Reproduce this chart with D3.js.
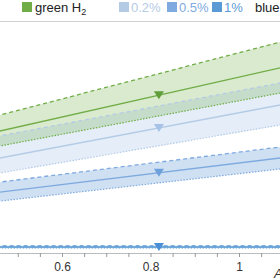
<!DOCTYPE html>
<html><head><meta charset="utf-8">
<script src="https://cdn.jsdelivr.net/npm/d3@7"></script>
<style>html,body{margin:0;padding:0;background:#fff;overflow:hidden}svg{display:block}</style>
</head><body>
<svg id="c" width="280" height="280"></svg>
<script>
// ---- data ----
const xEnds = [0.45, 1.1];
const series = ["green H₂", "0.2%", "0.5%", "1%"];
const upperVals = [[6.54, 10.29], [5.51, 8.23], [3.22, 5.02], [0.06, 0.06]];
const centerVals = [[5.75, 8.99], [4.41, 7.13], [2.72, 4.47], [0.0, 0.0]];
const lowerVals = [[5.01, 7.73], [3.66, 6.13], [2.27, 3.92], [-0.05, -0.05]];
const markerX = 0.819;
const tickVals = [0.5,0.55,0.6,0.65,0.7,0.75,0.8,0.85,0.9,0.95,1.0,1.05];
const labelVals = [0.6, 0.8, 1.0];
const legendItems = ["green H₂", "0.2%", "0.5%", "1%", "blue"];

// ---- styles ----
const lineCol = ["#70ad47", "#b4cbe6", "#7eaadf", "#5b9bd5"];
const fillCol = ["rgba(112,173,71,0.26)", "rgba(170,199,232,0.32)", "rgba(126,170,223,0.36)", "rgba(91,155,213,0.35)"];
const markCol = ["#5f9e3a", "#a6c2e6", "#6ea1dc", "#4a8fd6"];

const svg = d3.select("#c");
const x = d3.scaleLinear().domain([0.6, 1.0]).range([62, 239]);
const y = d3.scaleLinear().domain([0, 10]).range([247, 47]);

const plot = svg.append("g");
plot.append("clipPath").attr("id","clip").append("rect").attr("x",0).attr("y",22).attr("width",280).attr("height",232);
const g = plot.append("g").attr("clip-path","url(#clip)");

const line = d3.line().x(d=>x(d[0])).y(d=>y(d[1]));
const area = d3.area().x(d=>x(d[0])).y0(d=>y(d[1])).y1(d=>y(d[2]));

const order = [3,2,1,0];
order.forEach(i=>{
  const pts = xEnds.map((xv,k)=>[xv, lowerVals[i][k], upperVals[i][k]]);
  g.append("path").attr("d", area(pts)).attr("fill", fillCol[i]);
});
order.forEach(i=>{
  const up = xEnds.map((xv,k)=>[xv, upperVals[i][k]]);
  const ce = xEnds.map((xv,k)=>[xv, centerVals[i][k]]);
  const lo = xEnds.map((xv,k)=>[xv, lowerVals[i][k]]);
  g.append("path").attr("d", line(up)).attr("fill","none").attr("stroke", lineCol[i]).attr("stroke-width",1.3).attr("stroke-dasharray","4,3");
  g.append("path").attr("d", line(lo)).attr("fill","none").attr("stroke", lineCol[i]).attr("stroke-width",1.2).attr("stroke-dasharray","1.5,1.5");
  g.append("path").attr("d", line(ce)).attr("fill","none").attr("stroke", lineCol[i]).attr("stroke-width",1.3);
  const t = (markerX - xEnds[0])/(xEnds[1]-xEnds[0]);
  const my = centerVals[i][0] + t*(centerVals[i][1]-centerVals[i][0]);
  const cx = x(markerX), cy = y(my);
  g.append("path").attr("d", `M${cx-5},${cy-4}L${cx+5},${cy-4}L${cx},${cy+4}Z`).attr("fill", markCol[i]);
});

// axis
const ax = svg.append("g").attr("transform","translate(0,253)")
  .call(d3.axisBottom(x).tickValues(tickVals).tickSize(4).tickFormat(d=> labelVals.some(l=>Math.abs(l-d)<1e-9) ? d3.format("~g")(d) : ""));
ax.select(".domain").attr("stroke","#bbb").attr("d","M0,0.5H280");
ax.selectAll(".tick line").attr("stroke","#999");
ax.selectAll(".tick text").attr("fill","#333").attr("font-family","Liberation Sans, Arial, sans-serif").attr("font-size",12).attr("dy","0.95em");
svg.append("text").attr("x",274).attr("y",278).attr("font-family","Liberation Sans, Arial, sans-serif").attr("font-size",13).attr("font-style","italic").attr("fill","#333").text("A");

// legend
svg.append("line").attr("x1",0).attr("x2",280).attr("y1",21.5).attr("y2",21.5).attr("stroke","#d0d0d0").attr("stroke-width",1);
const lf = "Liberation Sans, Arial, sans-serif";
const legSq = [[22,"#70ad47"],[119,"#b4cbe6"],[167,"#7eaadf"],[212,"#5b9bd5"]];
legSq.forEach(d=>svg.append("rect").attr("x",d[0]).attr("y",2).attr("width",10).attr("height",10).attr("fill",d[1]));
const lt = svg.append("text").attr("x",35).attr("y",12).attr("font-family",lf).attr("font-size",13).attr("fill","#222");
lt.append("tspan").text("green H");
lt.append("tspan").attr("font-size",9).attr("dy",3).text("2");
const legTxt = [[131,"0.2%","#b4cbe6"],[179,"0.5%","#7eaadf"],[224,"1%","#5b9bd5"],[255,"blue","#222"]];
legTxt.forEach(d=>svg.append("text").attr("x",d[0]).attr("y",12).attr("font-family",lf).attr("font-size",13).attr("fill",d[2]).text(d[1]));
</script>
</body></html>
